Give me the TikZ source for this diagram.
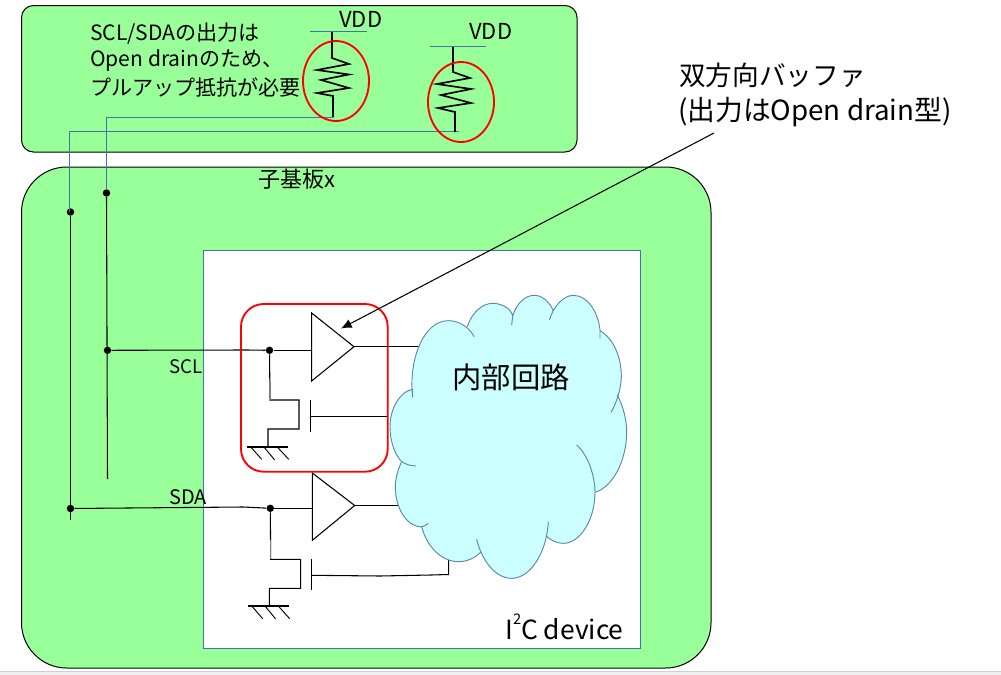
\documentclass[tikz,border=0pt]{standalone}
\usepackage{fontspec}
\setmainfont{Noto Sans CJK JP}
\usetikzlibrary{arrows.meta}
\definecolor{boardgreen}{HTML}{99FF99}
\definecolor{cloudfill}{HTML}{CCFFFF}
\definecolor{bluewire}{HTML}{4472A8}
\definecolor{cloudline}{HTML}{5B86AE}
\definecolor{stripfill}{HTML}{F0F0F0}
\definecolor{stripline}{HTML}{D0D0D0}
\tikzset{
  board/.style={fill=boardgreen,draw=black,line width=.75pt},
  wire/.style={draw=black,line width=.8pt},
  greywire/.style={draw=gray,line width=1.1pt},
  bluelink/.style={draw=bluewire,line width=.7pt},
  resist/.style={draw=black,line width=1.25pt,line join=miter},
  redmark/.style={draw=red,line width=1.4pt},
  junction/.style={circle,fill=black,inner sep=0pt,minimum size=5.6pt},
  label/.style={inner sep=0pt,text=black},
  note/.style={label,anchor=west,font=\fontsize{15.8pt}{19pt}\selectfont},
  cloudedge/.style={draw=cloudline,line width=.7pt},
}
\def\CloudPoly{(97,340) -- (262,145) -- (398,108) -- (513,94) -- (660,152) -- (712,345) -- (645,637) -- (500,765) -- (303,815) -- (125,740) -- (65,545) -- cycle}
\def\LobeA{(98,352) .. controls (85,240) and (130,122) .. (205,122) .. controls (240,122) and (270,145) .. (282,170)}
\def\LobeB{(262,140) .. controls (275,100) and (305,70) .. (338,70) .. controls (370,70) and (395,90) .. (398,108) .. controls (397,118) and (396,125) .. (395,135)}
\def\LobeC{(398,108) .. controls (410,70) and (435,46) .. (463,46) .. controls (490,46) and (510,70) .. (520,92)}
\def\LobeD{(508,120) .. controls (520,80) and (550,46) .. (580,46) .. controls (625,46) and (655,100) .. (660,150) -- (660,175)}
\def\LobeE{(660,152) .. controls (700,175) and (724,230) .. (724,290) .. controls (724,320) and (710,370) .. (693,397)}
\def\LobeF{(712,345) .. controls (730,380) and (740,420) .. (740,455) .. controls (740,540) and (700,620) .. (645,637)}
\def\LobeG{(590,495) .. controls (625,525) and (645,590) .. (645,637) .. controls (645,720) and (600,790) .. (550,790) .. controls (530,790) and (510,780) .. (498,767)}
\def\LobeH{(505,725) .. controls (500,820) and (450,895) .. (395,895) .. controls (345,895) and (305,840) .. (290,778)}
\def\LobeI{(303,815) .. controls (285,835) and (260,845) .. (235,845) .. controls (185,845) and (140,800) .. (125,740) .. controls (130,740) and (138,736) .. (145,730)}
\def\LobeJ{(125,741) .. controls (80,740) and (46,685) .. (46,620) .. controls (46,595) and (55,565) .. (65,545) .. controls (78,553) and (92,558) .. (108,558)}
\def\LobeK{(65,545) .. controls (45,525) and (30,485) .. (30,440) .. controls (30,385) and (60,335) .. (97,328) -- (98,352)}
\begin{document}
\begin{tikzpicture}[x=.75pt,y=-.75pt]
\useasboundingbox (0,0) rectangle (1001,675);
% window strip at the bottom
\fill[stripfill] (0,672) rectangle (1001,675);
\draw[stripline,line width=.75pt] (0,671.5) -- (1001,671.5);
% boards
\draw[board,rounded corners=9pt] (21.5,5.5) rectangle (577,152);
\draw[board,rounded corners=34pt] (21.5,167) rectangle (711,668);
\draw[fill=white,draw=bluewire,line width=.75pt] (203,250) rectangle (640,648);
% named points
\node[junction] (dotSclTop) at (106.5,193) {};
\node[junction] (dotSdaTop) at (70.5,212) {};
\node[junction] (dotScl) at (107.5,350.3) {};
\node[junction] (dotSda) at (70.5,508.5) {};
\node[junction] (dotA) at (269.5,350.3) {};
\node[junction] (dotB) at (270.3,508.3) {};
\coordinate (sclEnd) at (107.5,479);
\coordinate (sdaEnd) at (70.5,520);
% triangles
\coordinate (t1a) at (311.6,313); \coordinate (t1o) at (354,346.7); \coordinate (t1b) at (311.6,381);
\coordinate (t2a) at (312.3,473); \coordinate (t2o) at (354.7,505.5); \coordinate (t2b) at (312.3,540.3);
% wires under the cloud
\draw[wire] (t1o) -- (420,346.7);
\draw[wire] (t2o) -- (400,505.5);
\draw[wire] (311.3,575.3) -- (380,576) -- (431,575) -- (448.7,574.5) -- (448.7,556);
% cloud
\begin{scope}[shift={(380,280)},x=.25pt,y=-.25pt]
\fill[cloudfill] \CloudPoly;
\fill[cloudfill] \LobeA; \fill[cloudfill] \LobeB; \fill[cloudfill] \LobeC; \fill[cloudfill] \LobeD;
\fill[cloudfill] \LobeE; \fill[cloudfill] \LobeF; \fill[cloudfill] \LobeG; \fill[cloudfill] \LobeH;
\fill[cloudfill] \LobeI; \fill[cloudfill] \LobeJ; \fill[cloudfill] \LobeK;
\draw[cloudedge] \LobeA \LobeB \LobeC \LobeD \LobeE \LobeF \LobeG \LobeH \LobeI \LobeJ \LobeK;
\end{scope}
% bus wires
\draw[bluelink] (333,117) -- (106.5,117) -- (dotSclTop);
\draw[bluelink] (459,131.5) -- (69.5,131.5) -- (69.5,212);
\draw[wire] (dotSclTop) -- (sclEnd);
\draw[wire] (dotSdaTop) -- (sdaEnd);
\draw[wire] (dotScl) -- (247,350) -- (dotA);
\draw[wire] (dotSda) -- (243,507) -- (dotB);
\draw[wire] (dotA) -- (311.6,350.3);
\draw[wire] (dotB) -- (312.3,508.3);
% buffers
\draw[wire,line join=miter] (t1a) -- (t1o) -- (t1b) -- cycle;
\draw[wire,line join=miter] (t2a) -- (t2o) -- (t2b) -- cycle;
% transistor 1
\draw[wire] (dotA) -- (270,400) -- (299,400) -- (299,429) -- (268,429) -- (268,447);
\draw[greywire] (270,382) -- (270,400);
\draw[wire] (310.3,400) -- (310.3,431.7);
\draw[wire] (310.3,416.3) -- (387,416.3);
\draw[wire] (247,447) -- (288,447);
\draw[wire,line width=.7pt] (250.7,447) -- (261.7,459.3) (264,447) -- (274.7,460) (277.3,447) -- (288.7,459.3);
% transistor 2
\draw[wire] (dotB) -- (270.7,559.3) -- (300.7,559.3) -- (300.7,588.3) -- (269.3,588.3) -- (269.3,606);
\draw[greywire] (270.7,540) -- (270.7,559.3);
\draw[wire] (311.3,558.7) -- (311.3,590);
\draw[wire] (248.3,606) -- (289.3,606);
\draw[wire,line width=.7pt] (251.7,606) -- (262.7,618.7) (265,606) -- (275.7,619) (278.3,606) -- (289.7,618.7);
% red frame
\draw[redmark,rounded corners=17pt] (241,304) rectangle (387.7,471.7);
% callout arrow
\coordinate (calloutTail) at (714,133);
\coordinate (calloutTip) at (341,328.5);
\draw[wire,-{Latex[length=8pt,width=7pt]}] (calloutTail) -- (calloutTip);
% resistor 1
\draw[bluelink] (310,31.5) -- (367,31.5);
\draw[resist] (332,32) -- (332,58) -- (349,64) -- (317,70) -- (349,74.5) -- (321,80) -- (349,88) -- (317,93) -- (333,96) -- (333,117);
\draw[redmark] (336,81) ellipse [x radius=33,y radius=40];
% resistor 2
\draw[bluelink] (430,46.5) -- (486,46.5);
\draw[resist] (453,47) -- (453,72) -- (470,78) -- (437,84) -- (471,89) -- (441,95) -- (471,103) -- (438,108) -- (455,112) -- (455,132);
\draw[redmark] (461,102) ellipse [x radius=33,y radius=40];
% text
\node[label,anchor=west,font=\fontsize{16.5pt}{20pt}\selectfont] (vddA) at (339,19.5) {VDD};
\node[label,anchor=west,font=\fontsize{16.5pt}{20pt}\selectfont] (vddB) at (469,31) {VDD};
\node[note] (noteA) at (90,33.5) {SCL/SDAの出力は};
\node[note] (noteB) at (90,60.5) {Open drainのため、};
\node[note] (noteC) at (90,87) {プルアップ抵抗が必要};
\node[label,anchor=west,font=\fontsize{16.5pt}{20pt}\selectfont] (child) at (258,179) {子基板x};
\node[label,anchor=west,font=\fontsize{14pt}{17pt}\selectfont] (sclText) at (169,367) {SCL};
\node[label,anchor=west,font=\fontsize{15pt}{18pt}\selectfont] (sdaText) at (169,497) {SDA};
\node[label,anchor=west,font=\fontsize{20pt}{24pt}\selectfont] (titleA) at (679,75) {双方向バッファ};
\node[label,anchor=west,font=\fontsize{20.8pt}{25pt}\selectfont] (titleB) at (678,112) {(出力はOpen drain型)};
\node[label,font=\fontsize{22pt}{26pt}\selectfont] (inner) at (511,377.5) {内部回路};
\node[label,anchor=west,font=\fontsize{19.8pt}{24pt}\selectfont] (dev) at (505,627) {I\raisebox{.55em}{\fontsize{11pt}{13pt}\selectfont 2}C device};
\end{tikzpicture}
\end{document}
